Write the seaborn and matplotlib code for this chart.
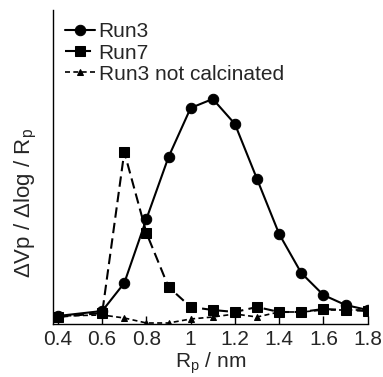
import numpy as np
import pandas as pd
import matplotlib
matplotlib.use('Agg')
import matplotlib.pyplot as plt
import seaborn as sns

sns.set_style('white')
plt.rcParams['font.family'] = ['Liberation Sans', 'DejaVu Sans']
plt.rcParams['mathtext.fontset'] = 'custom'
plt.rcParams['mathtext.rm'] = 'Liberation Sans'

# pore radius (nm)
rp = [0.4, 0.6, 0.7, 0.8, 0.9, 1.0, 1.1, 1.2, 1.3, 1.4, 1.5, 1.6, 1.7, 1.8]

# dVp/dlogRp, arbitrary units
run3 = [8, 13, 41, 105, 167, 216, 225, 200, 145, 90, 51, 29, 19, 14]
run7 = [7, 11, 172, 91, 37, 17, 14, 12, 17, 12, 12, 15, 14, 13]
run3_nc = [8, 9, 6, 1, 1, 5, 7, 10, 7, 12, 12, 14, 14, 14]

labels = ['Run3', 'Run7', 'Run3 not calcinated']

fig = plt.figure(figsize=(3.83, 3.77), dpi=100)
ax = fig.add_axes([0.138, 0.1406, 0.823, 0.833])

sns.lineplot(x=rp, y=run3_nc, ax=ax, color='black', marker='^', markersize=5,
             markeredgecolor='black', linewidth=1.2, label=labels[2])
ax.lines[-1].set_dashes((3, 2))
sns.lineplot(x=rp, y=run3, ax=ax, color='black', marker='o', markersize=7.5,
             markeredgecolor='black', linewidth=1.5, label=labels[0])
sns.lineplot(x=rp, y=run7, ax=ax, color='black', marker='s', markersize=7.5,
             markeredgecolor='black', linewidth=1.5, label=labels[1])
ax.lines[-1].set_dashes((5, 2.5))

handles, labs = ax.get_legend_handles_labels()
order = [labs.index(l) for l in labels]
ax.legend([handles[i] for i in order], [labs[i] for i in order], loc='upper left',
          frameon=False, fontsize=15, handlelength=1.4, handletextpad=0.2,
          labelspacing=0.1, borderaxespad=0.2, bbox_to_anchor=(0.0, 1.0))

ax.set_xlim(0.377, 1.802)
ax.set_ylim(0, 314)
ax.set_xticks([0.4, 0.6, 0.8, 1.0, 1.2, 1.4, 1.6, 1.8])
ax.set_xticklabels(['0.4', '0.6', '0.8', '1', '1.2', '1.4', '1.6', '1.8'])
ax.set_yticks([])
ax.tick_params(axis='x', direction='in', length=6, width=1, color='black',
               labelsize=15, pad=4, bottom=True)
sns.despine(ax=ax)
for s in ['left', 'bottom']:
    ax.spines[s].set_color('black')
    ax.spines[s].set_linewidth(1)

ax.set_xlabel('R$_\\mathregular{p}$ / nm', fontsize=15, labelpad=1)
ax.set_ylabel('\u0394Vp / \u0394log / R$_\\mathregular{p}$', fontsize=16)
ax.yaxis.set_label_coords(-0.045, 0.385)

fig.savefig('out.png', dpi=100)
